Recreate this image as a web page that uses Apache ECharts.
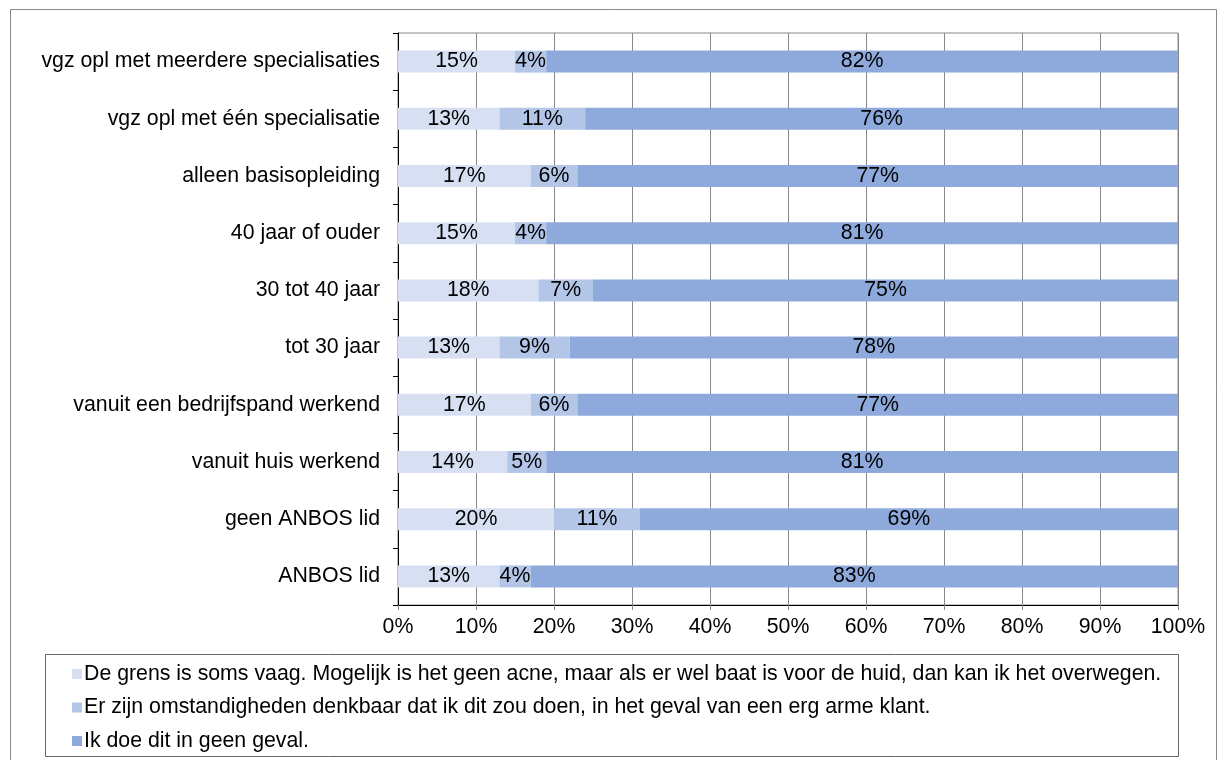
<!DOCTYPE html>
<html>
<head>
<meta charset="utf-8">
<script src="https://cdn.jsdelivr.net/npm/echarts@6/dist/echarts.min.js"></script>
<style>
  html, body { margin: 0; padding: 0; background: #fff; }
  #chart { width: 1221px; height: 760px; }
</style>
</head>
<body>
<div id="chart"></div>
<script>
// Groups, listed from top to bottom
const categories = [
  'vgz opl met meerdere specialisaties',
  'vgz opl met één specialisatie',
  'alleen basisopleiding',
  '40 jaar of ouder',
  '30 tot 40 jaar',
  'tot 30 jaar',
  'vanuit een bedrijfspand werkend',
  'vanuit huis werkend',
  'geen ANBOS lid',
  'ANBOS lid'
];

const seriesNames = [
  'De grens is soms vaag. Mogelijk is het geen acne, maar als er wel baat is voor de huid, dan kan ik het overwegen.',
  'Er zijn omstandigheden denkbaar dat ik dit zou doen, in het geval van een erg arme klant.',
  'Ik doe dit in geen geval.'
];

// Shares in percent per group
const vaag = [15, 13, 17, 15, 18, 13, 17, 14, 20, 13];
const omstandigheden = [4, 11, 6, 4, 7, 9, 6, 5, 11, 4];
const geenGeval = [82, 76, 77, 81, 75, 78, 77, 81, 69, 83];

const colors = ['#D7E0F3', '#B3C6E8', '#8EAADC'];
const font = 'Liberation Sans, Arial, sans-serif';
const fs = 21.3;

const chart = echarts.init(document.getElementById('chart'), null, { renderer: 'canvas' });

function bar(name, data, color) {
  return {
    name: name,
    type: 'bar',
    stack: 'total',
    data: data,
    barWidth: 22,
    itemStyle: { color: color },
    label: {
      show: true,
      position: 'inside',
      formatter: '{c}%',
      color: '#000',
      fontFamily: font,
      fontSize: fs
    },
    emphasis: { disabled: true }
  };
}

chart.setOption({
  animation: false,
  backgroundColor: '#fff',
  grid: {
    left: 398, right: 43, top: 33, bottom: 155,
    show: true, borderColor: '#888', borderWidth: 1
  },
  xAxis: {
    type: 'value',
    min: 0, max: 100, interval: 10,
    axisLine: { show: true, lineStyle: { color: '#000', width: 1 } },
    axisTick: { show: true, length: 5, lineStyle: { color: '#888' } },
    axisLabel: {
      formatter: '{value}%', color: '#000',
      fontFamily: font, fontSize: fs, margin: 12
    },
    splitLine: { show: true, lineStyle: { color: '#888', width: 1 } }
  },
  yAxis: {
    type: 'category',
    data: categories,
    inverse: true,
    axisLine: { show: true, lineStyle: { color: '#000', width: 1 } },
    axisTick: { show: true, length: 5, alignWithLabel: false, lineStyle: { color: '#000' } },
    axisLabel: { color: '#000', fontFamily: font, fontSize: fs, margin: 18 },
    splitLine: { show: false }
  },
  legend: {
    orient: 'vertical',
    left: 67, top: 657,
    width: 1120, height: 100,
    itemWidth: 10, itemHeight: 10,
    itemGap: 9.5,
    icon: 'rect',
    selectedMode: false,
    textStyle: { color: '#000', fontFamily: font, fontSize: fs, lineHeight: 24, padding: [0, 0, 0, -3] },
    data: seriesNames
  },
  graphic: [
    {
      type: 'rect', silent: true, z: -1,
      shape: { x: 10.5, y: 9.5, width: 1206, height: 760 },
      style: { fill: 'none', stroke: '#888', lineWidth: 1 }
    },
    {
      type: 'rect', silent: true, z: -1,
      shape: { x: 45.5, y: 654.5, width: 1133, height: 102 },
      style: { fill: 'none', stroke: '#666', lineWidth: 1 }
    }
  ],
  series: [
    bar(seriesNames[0], vaag, colors[0]),
    bar(seriesNames[1], omstandigheden, colors[1]),
    bar(seriesNames[2], geenGeval, colors[2])
  ]
});
</script>
</body>
</html>
